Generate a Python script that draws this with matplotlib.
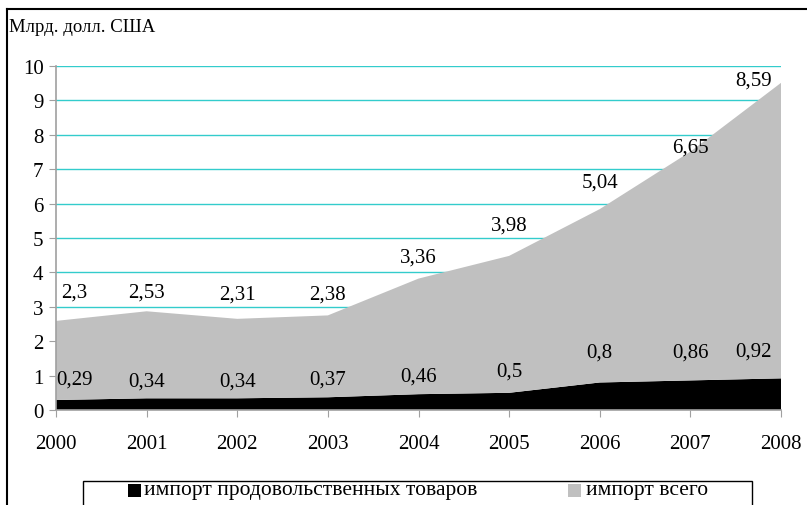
import matplotlib.pyplot as plt
from matplotlib.patches import Rectangle
from matplotlib.lines import Line2D

plt.rcParams['font.family'] = ['Liberation Serif', 'DejaVu Serif']

# данные
anos = [2000, 2001, 2002, 2003, 2004, 2005, 2006, 2007, 2008]
prod = [0.29, 0.34, 0.34, 0.37, 0.46, 0.5, 0.8, 0.86, 0.92]
vsego = [2.3, 2.53, 2.31, 2.38, 3.36, 3.98, 5.04, 6.65, 8.59]
rotulos_prod = ['0,29', '0,34', '0,34', '0,37', '0,46', '0,5', '0,8', '0,86', '0,92']
rotulos_vsego = ['2,3', '2,53', '2,31', '2,38', '3,36', '3,98', '5,04', '6,65', '8,59']

# posições das etiquetas (como no original)
y_prod = [0.9, 0.84, 0.84, 0.9, 0.99, 1.13, 1.69, 1.69, 1.72]
y_vsego = [3.43, 3.43, 3.37, 3.37, 4.45, 5.38, 6.63, 7.65, 9.59]
dx = [0.2, 0, 0, 0, 0, 0, 0, 0, -0.3]

fig = plt.figure(figsize=(8.07, 5.06), dpi=100)
ax = fig.add_axes([56/807, 1 - 411/506, 725/807, 344/506])

ax.stackplot(anos, prod, vsego, colors=['black', '#C0C0C0'], zorder=2)

for i in range(len(anos)):
    ax.text(anos[i] + dx[i], y_prod[i], rotulos_prod[i], ha='center', va='center', fontsize=15, zorder=3)
    ax.text(anos[i] + dx[i], y_vsego[i], rotulos_vsego[i], ha='center', va='center', fontsize=15, zorder=3)

ax.set_xlim(2000, 2008)
ax.set_ylim(0, 10)
ax.set_xticks(anos)
ax.set_xticklabels([str(a) for a in anos])
ax.set_yticks(range(0, 11))
ax.grid(axis='y', color='#33CCCC', linewidth=1)
ax.set_axisbelow(True)

for s in ['top', 'right']:
    ax.spines[s].set_visible(False)
for s in ['left', 'bottom']:
    ax.spines[s].set_color('#A0A0A0')
    ax.spines[s].set_linewidth(1.2)
ax.tick_params(axis='both', colors='#A0A0A0', labelcolor='black', labelsize=15, length=5)
ax.tick_params(axis='x', pad=12)
ax.tick_params(axis='y', pad=4)

fig.text(9/807, 1 - 27/506, 'Млрд. долл. США', ha='left', va='center', fontsize=13.5)

# moldura
fig.add_artist(Line2D([7/807, 7/807], [0, 1 - 10/506], transform=fig.transFigure, color='black', lw=1.5))
fig.add_artist(Line2D([7/807, 1], [1 - 10/506, 1 - 10/506], transform=fig.transFigure, color='black', lw=1.5))

# legenda
fig.add_artist(Rectangle((83/807, -0.05), 669/807, 0.05 + 1 - 482/506, transform=fig.transFigure,
                         fill=False, edgecolor='black', lw=1))
fig.add_artist(Rectangle((128/807, 1 - 498/506), 13/807, 13/506, transform=fig.transFigure,
                         facecolor='black', edgecolor='none'))
fig.text(144/807, 1 - 491/506, 'импорт продовольственных товаров', ha='left', va='center', fontsize=15.5)
fig.add_artist(Rectangle((568/807, 1 - 498/506), 13/807, 13/506, transform=fig.transFigure,
                         facecolor='#C0C0C0', edgecolor='none'))
fig.text(586/807, 1 - 491/506, 'импорт всего', ha='left', va='center', fontsize=15.5)

plt.savefig('out.png', dpi=100)
